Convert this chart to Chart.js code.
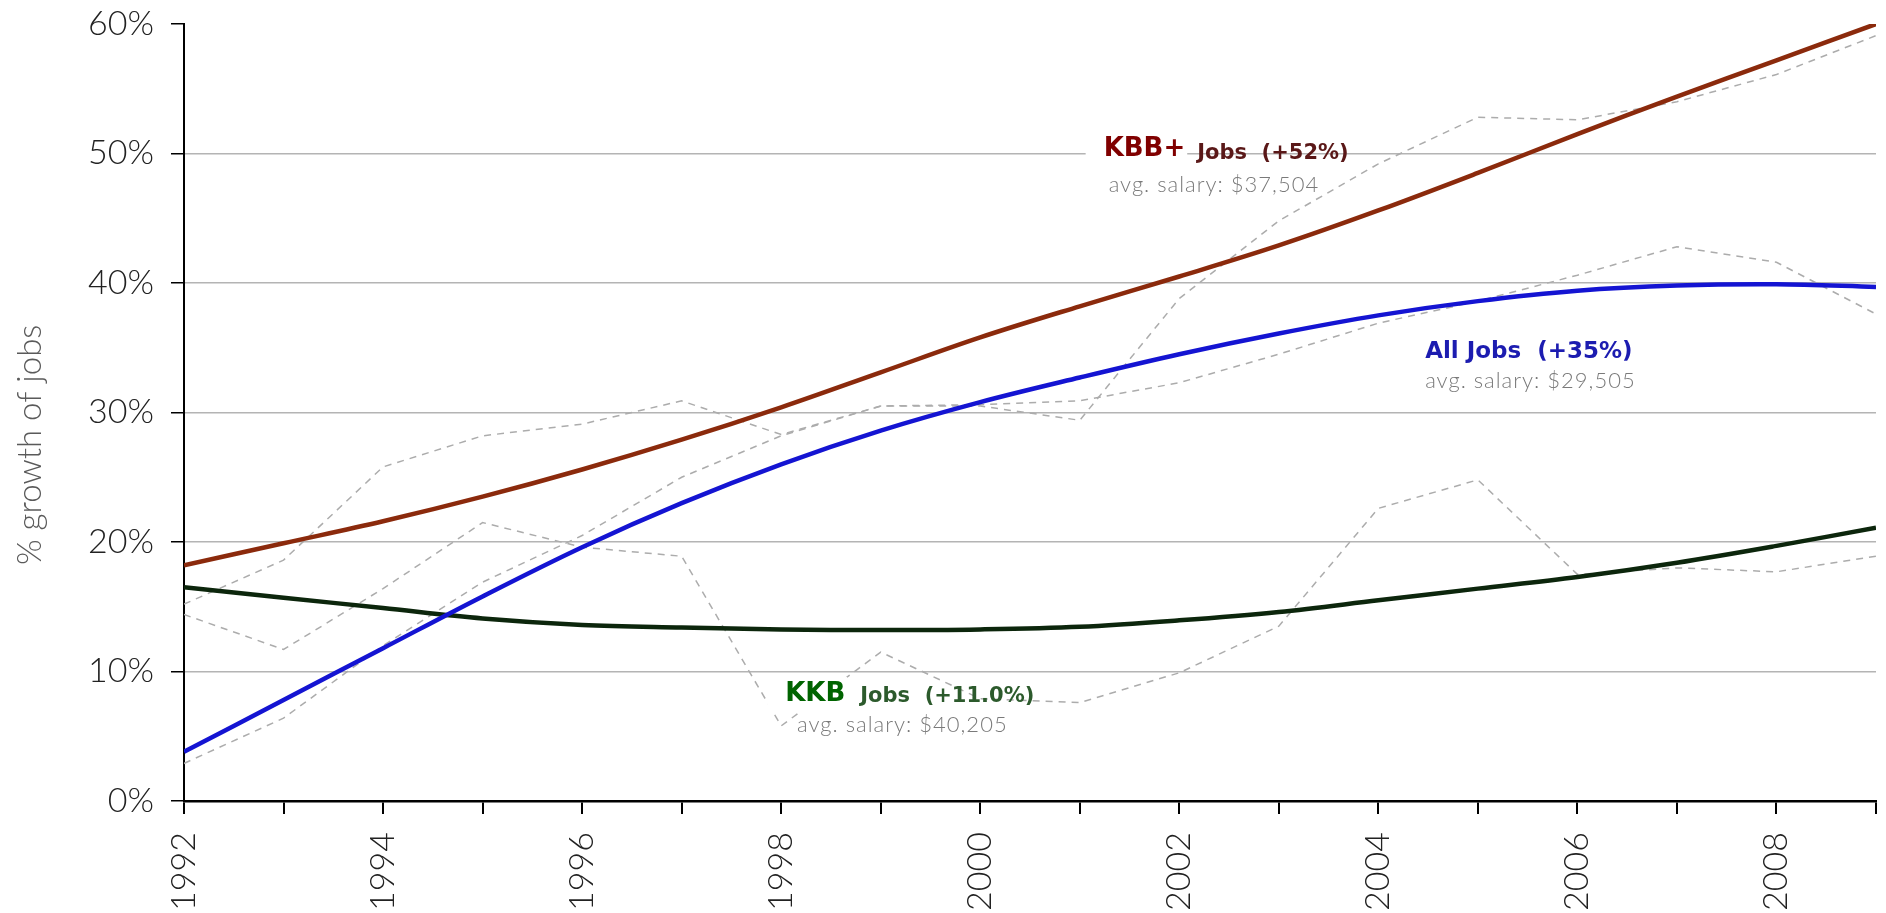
<!DOCTYPE html>
<html>
<head>
<meta charset="utf-8">
<script src="https://cdn.jsdelivr.net/npm/chart.js@4.4.1/dist/chart.umd.min.js"></script>
<style>
  html, body { margin: 0; padding: 0; background: #fff; }
  #wrap { width: 1886px; height: 913px; position: relative; }
</style>
</head>
<body>
<div id="wrap"><canvas id="jobsChart"></canvas></div>
<script>
// Job growth since 1992, in percent

const years = [1992, 1993, 1994, 1995, 1996, 1997, 1998, 1999, 2000,
               2001, 2002, 2003, 2004, 2005, 2006, 2007, 2008, 2009];

// smooth trend lines
const kbbTrend = [18.2, 19.9, 21.6, 23.5, 25.6, 27.9, 30.4, 33.1, 35.8,
                  38.2, 40.5, 42.9, 45.6, 48.5, 51.5, 54.4, 57.2, 60.0];
const allTrend = [3.8, 7.8, 11.8, 15.8, 19.6, 23.0, 26.0, 28.6, 30.8,
                  32.7, 34.5, 36.1, 37.5, 38.6, 39.4, 39.8, 39.9, 39.7];
const kkbTrend = [16.5, 15.7, 14.9, 14.1, 13.6, 13.4, 13.25, 13.2, 13.25,
                  13.45, 13.95, 14.6, 15.5, 16.4, 17.3, 18.4, 19.7, 21.1];

// actual yearly values (dashed)
const kbbActual = [15.2, 18.6, 25.8, 28.2, 29.1, 30.9, 28.3, 30.5, 30.5,
                   29.4, 38.8, 44.8, 49.2, 52.8, 52.6, 54.0, 56.1, 59.1];
const allActual = [2.9, 6.4, 12.0, 16.9, 20.5, 25.0, 28.2, 30.5, 30.6,
                   30.9, 32.3, 34.5, 36.9, 38.6, 40.6, 42.8, 41.6, 37.6];
const kkbActual = [14.4, 11.7, 16.4, 21.5, 19.6, 18.9, 5.8, 11.5, 7.9,
                   7.6, 9.9, 13.5, 22.6, 24.8, 17.5, 18.0, 17.7, 18.9];

const yMin = 0, yMax = 60, yStep = 10;

const tickFont = 'Lato';
const boldFont = '"DejaVu Sans"';

function pts(vals) {
    return years.map((yr, i) => ({ x: yr, y: vals[i] }));
}

function trend(vals, color) {
    return {
        data: pts(vals),
        borderColor: color,
        borderWidth: 4.5,
        pointRadius: 0,
        tension: 0.35,
        fill: false
    };
}

function actual(vals) {
    return {
        data: pts(vals),
        borderColor: '#acacac',
        borderWidth: 1.5,
        borderDash: [7, 6],
        pointRadius: 0,
        tension: 0,
        fill: false
    };
}

// text labels anchored in data units (year, percent)
const notes = [
    {
        x: 2001.24, y: 49.8,
        parts: [
            { t: 'KBB+', font: 'bold 26px ' + boldFont, color: '#800000', bg: true },
            { t: 'Jobs  (+52%)', font: 'bold 21px ' + boldFont, color: '#5a1818', gap: 12, dy: 3 }
        ],
        sub: { t: 'avg. salary: $37,504', x: 2001.29, y: 47.0 }
    },
    {
        x: 2004.47, y: 34.2,
        parts: [
            { t: 'All Jobs  (+35%)', font: 'bold 23px ' + boldFont, color: '#1c1cb0' }
        ],
        sub: { t: 'avg. salary: $29,505', x: 2004.47, y: 31.9 }
    },
    {
        x: 1998.04, y: 7.72,
        parts: [
            { t: 'KKB', font: 'bold 26px ' + boldFont, color: '#006400', bg: true },
            { t: 'Jobs  (+11.0%)', font: 'bold 21px ' + boldFont, color: '#2c5a2c', gap: 15, dy: 1 }
        ],
        sub: { t: 'avg. salary: $40,205', x: 1998.16, y: 5.33 }
    }
];

const notePlugin = {
    id: 'notes',
    afterDatasetsDraw(chart) {
        const { ctx, scales: { x, y } } = chart;
        ctx.save();

        // y axis title
        ctx.save();
        ctx.translate(30, y.getPixelForValue(27.5));
        ctx.rotate(-Math.PI / 2);
        ctx.font = '300 33px ' + tickFont;
        ctx.fillStyle = '#5a5a5a';
        ctx.textAlign = 'center';
        ctx.textBaseline = 'middle';
        ctx.fillText('% growth of jobs', 0, 0);
        ctx.restore();

        ctx.textAlign = 'left';
        ctx.textBaseline = 'alphabetic';
        notes.forEach(n => {
            let px = x.getPixelForValue(n.x);
            const py = y.getPixelForValue(n.y);
            n.parts.forEach(p => {
                ctx.font = p.font;
                px += p.gap || 0;
                const w = ctx.measureText(p.t).width;
                if (p.bg) {
                    ctx.fillStyle = '#fff';
                    ctx.fillRect(px - 18, py - 24, w + 20, 34);
                }
                ctx.fillStyle = p.color;
                ctx.fillText(p.t, px, py + (p.dy || 0));
                px += w;
            });
            ctx.font = '300 22px ' + tickFont;
            ctx.fillStyle = '#7a7a7a';
            ctx.letterSpacing = '1px';
            ctx.fillText(n.sub.t, x.getPixelForValue(n.sub.x), y.getPixelForValue(n.sub.y));
            ctx.letterSpacing = '0px';
        });
        ctx.restore();
    }
};

document.addEventListener('DOMContentLoaded', function () {
    const ctx = document.getElementById('jobsChart').getContext('2d');

    new Chart(ctx, {
        type: 'line',
        data: {
            datasets: [
                trend(kbbTrend, '#8b2a0c'),
                trend(allTrend, '#1414d2'),
                trend(kkbTrend, '#0c260c'),
                actual(kbbActual),
                actual(allActual),
                actual(kkbActual)
            ]
        },
        options: {
            responsive: true,
            maintainAspectRatio: false,
            animation: false,
            layout: { padding: { top: 24, right: 10, left: 0, bottom: 0 } },
            plugins: {
                legend: { display: false },
                tooltip: { enabled: false }
            },
            scales: {
                x: {
                    type: 'linear',
                    min: years[0],
                    max: years[years.length - 1],
                    afterFit(scale) {
                        scale.height = 112;
                        scale.paddingLeft = 0;
                        scale.paddingRight = 0;
                    },
                    border: { color: '#000', width: 2.5 },
                    grid: {
                        drawOnChartArea: false,
                        tickLength: 13,
                        tickColor: '#000',
                        lineWidth: 2
                    },
                    ticks: {
                        stepSize: 1,
                        autoSkip: false,
                        minRotation: 90,
                        maxRotation: 90,
                        padding: 18,
                        color: '#222',
                        font: { family: tickFont, size: 34, weight: '300' },
                        callback: v => (v % 2 === 0 ? String(v) : '')
                    }
                },
                y: {
                    min: yMin,
                    max: yMax,
                    afterFit(scale) {
                        scale.width = 184;
                        scale.paddingTop = 0;
                        scale.paddingBottom = 0;
                    },
                    border: { color: '#000', width: 2 },
                    grid: {
                        color: c => (c.tick && c.tick.value === yMax ? 'rgba(0,0,0,0)' : '#b4b4b4'),
                        lineWidth: 1.5,
                        tickLength: 13,
                        tickColor: '#000'
                    },
                    ticks: {
                        stepSize: yStep,
                        padding: 17,
                        color: '#222',
                        font: { family: tickFont, size: 34, weight: '300' },
                        callback: v => v + '%'
                    }
                }
            }
        },
        plugins: [notePlugin]
    });
});
</script>
</body>
</html>
